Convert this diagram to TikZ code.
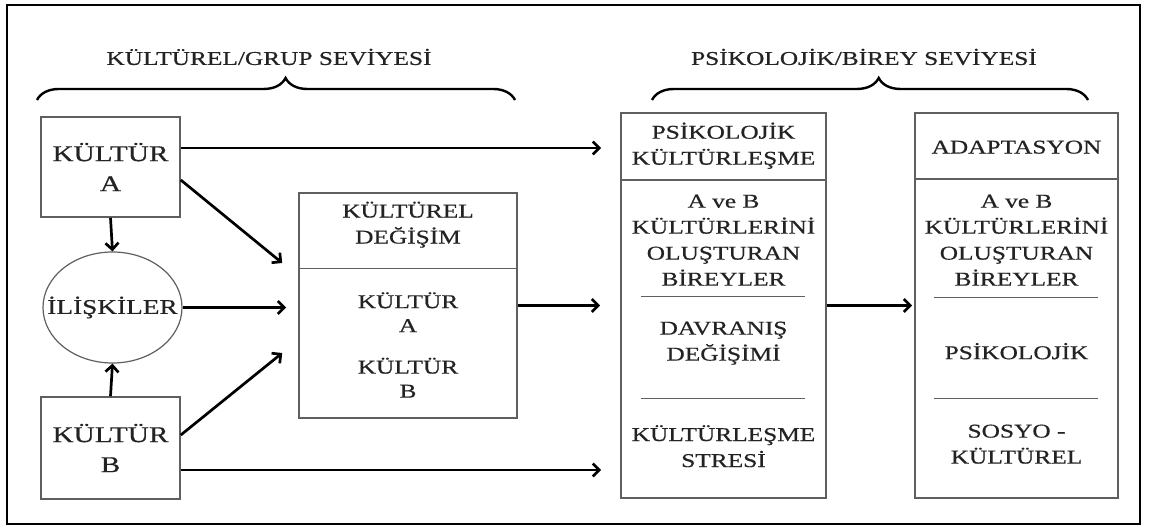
\documentclass[tikz,border=0pt]{standalone}
\usepackage{fontspec}
\setmainfont{Liberation Serif}[FakeStretch=1.3,FakeBold=0.6]
\usepackage{tikz}
\usetikzlibrary{positioning,arrows.meta,shapes.geometric,decorations.pathreplacing}
\definecolor{boxline}{RGB}{95,95,95}
\definecolor{inktext}{RGB}{35,35,35}

\begin{document}
\begin{tikzpicture}[x=1pt, y=1pt, >={Straight Barb[length=6.5pt,width=13pt]}]
  \tikzstyle{frm}=[rectangle,draw=boxline,line width=1.6pt,inner sep=0pt]
  \tikzstyle{txt}=[align=center,text=inktext,font=\fontsize{19.5}{26}\selectfont,inner sep=0pt]
  \tikzstyle{big}=[align=center,text=inktext,font=\fontsize{22.5}{30}\selectfont,inner sep=0pt]
  \tikzstyle{arr}=[->,line width=2.7pt]
  \tikzstyle{sep}=[draw=boxline,line width=1.4pt]
  \tikzstyle{brc}=[decorate,decoration={brace,amplitude=22pt,aspect=0.52},line width=2.4pt]
  \useasboundingbox (0,0) rectangle (1150,528);
  \draw[line width=2.4pt] (7,4) rectangle (1140,523);

  % level titles and braces
  \node[txt] (grup) at (269,471) {KÜLTÜREL/GRUP SEVİYESİ};
  \node[txt] (birey) at (864,471) {PSİKOLOJİK/BİREY SEVİYESİ};
  \draw[brc] (37,428) -- (515,428);
  \draw[brc] (652,428) -- (1088,428);

  % group level
  \node[frm,big,minimum width=139pt,minimum height=100pt] (kulturA) at (110.5,361) {KÜLTÜR\\A};
  \node[frm,big,minimum width=139pt,minimum height=102pt] (kulturB) at (110.5,80) {KÜLTÜR\\B};
  \node[ellipse,draw=boxline,line width=1.2pt,minimum width=139pt,minimum height=111pt,
        label={[big,font=\fontsize{21}{26}\selectfont]center:İLİŞKİLER}] (iliskiler) at (112.5,220.5) {};

  \node[frm,minimum width=218pt,minimum height=225pt] (degisim) at (408,222.5) {};
  \draw[sep] ([yshift=-76pt]degisim.north west) -- ([yshift=-76pt]degisim.north east);
  \node[txt] (degisimhead) at ([yshift=-32.5pt]degisim.north) {KÜLTÜREL\\DEĞİŞİM};
  \node[txt,font=\fontsize{19.5}{24}\selectfont] (degisimA) at ([yshift=-120pt]degisim.north) {KÜLTÜR\\A};
  \node[txt,font=\fontsize{19.5}{24}\selectfont] (degisimB) at ([yshift=-185.5pt]degisim.north) {KÜLTÜR\\B};

  % individual level
  \node[frm,minimum width=205pt,minimum height=385pt] (psik) at (723.5,222.5) {};
  \draw[sep] ([yshift=-68pt]psik.north west) -- ([yshift=-68pt]psik.north east);
  \node[txt] (psikhead) at ([yshift=-33.5pt]psik.north) {PSİKOLOJİK\\KÜLTÜRLEŞME};
  \node[txt] (psikbirey) at ([yshift=-128pt]psik.north) {A ve B\\KÜLTÜRLERİNİ\\OLUŞTURAN\\BİREYLER};
  \draw[sep] ([xshift=21pt,yshift=-184pt]psik.north west) -- ([xshift=-22pt,yshift=-184pt]psik.north east);
  \node[txt] (davranis) at ([yshift=-231pt]psik.north) {DAVRANIŞ\\DEĞİŞİMİ};
  \draw[sep] ([xshift=21pt,yshift=-286pt]psik.north west) -- ([xshift=-22pt,yshift=-286pt]psik.north east);
  \node[txt] (stres) at ([yshift=-334pt]psik.north) {KÜLTÜRLEŞME\\STRESİ};

  \node[frm,minimum width=203pt,minimum height=385pt] (adapt) at (1016.5,222.5) {};
  \draw[sep] ([yshift=-67pt]adapt.north west) -- ([yshift=-67pt]adapt.north east);
  \node[txt] (adapthead) at ([yshift=-35pt]adapt.north) {ADAPTASYON};
  \node[txt] (adaptbirey) at ([yshift=-128pt]adapt.north) {A ve B\\KÜLTÜRLERİNİ\\OLUŞTURAN\\BİREYLER};
  \draw[sep] ([xshift=20pt,yshift=-185pt]adapt.north west) -- ([xshift=-21pt,yshift=-185pt]adapt.north east);
  \node[txt] (psikolojik) at ([yshift=-239pt]adapt.north) {PSİKOLOJİK};
  \draw[sep] ([xshift=20pt,yshift=-286pt]adapt.north west) -- ([xshift=-21pt,yshift=-286pt]adapt.north east);
  \node[txt] (sosyo) at ([yshift=-332pt]adapt.north) {SOSYO -\\KÜLTÜREL};

  % connectors
  \draw[arr] (kulturA.south) -- (iliskiler.north);
  \draw[arr] (kulturB.north) -- (iliskiler.south);
  \draw[arr] ([yshift=-13pt]kulturA.east) -- ([xshift=-16pt,yshift=42.5pt]degisim.west);
  \draw[arr] ([yshift=13pt]kulturB.east) -- ([xshift=-16pt,yshift=-47.5pt]degisim.west);
  \draw[arr,shorten >=12pt] (iliskiler.east) -- (iliskiler.east -| degisim.west);
  \draw[arr,shorten >=19pt] ([yshift=19pt]kulturA.east) -- ([yshift=19pt]kulturA.east -| psik.west);
  \draw[arr,shorten >=19pt] ([yshift=-22pt]kulturB.east) -- ([yshift=-22pt]kulturB.east -| psik.west);
  \draw[arr,shorten >=20pt] (degisim.east) -- (psik.west);
  \draw[arr,shorten >=2pt] (psik.east) -- (adapt.west);
\end{tikzpicture}
\end{document}
